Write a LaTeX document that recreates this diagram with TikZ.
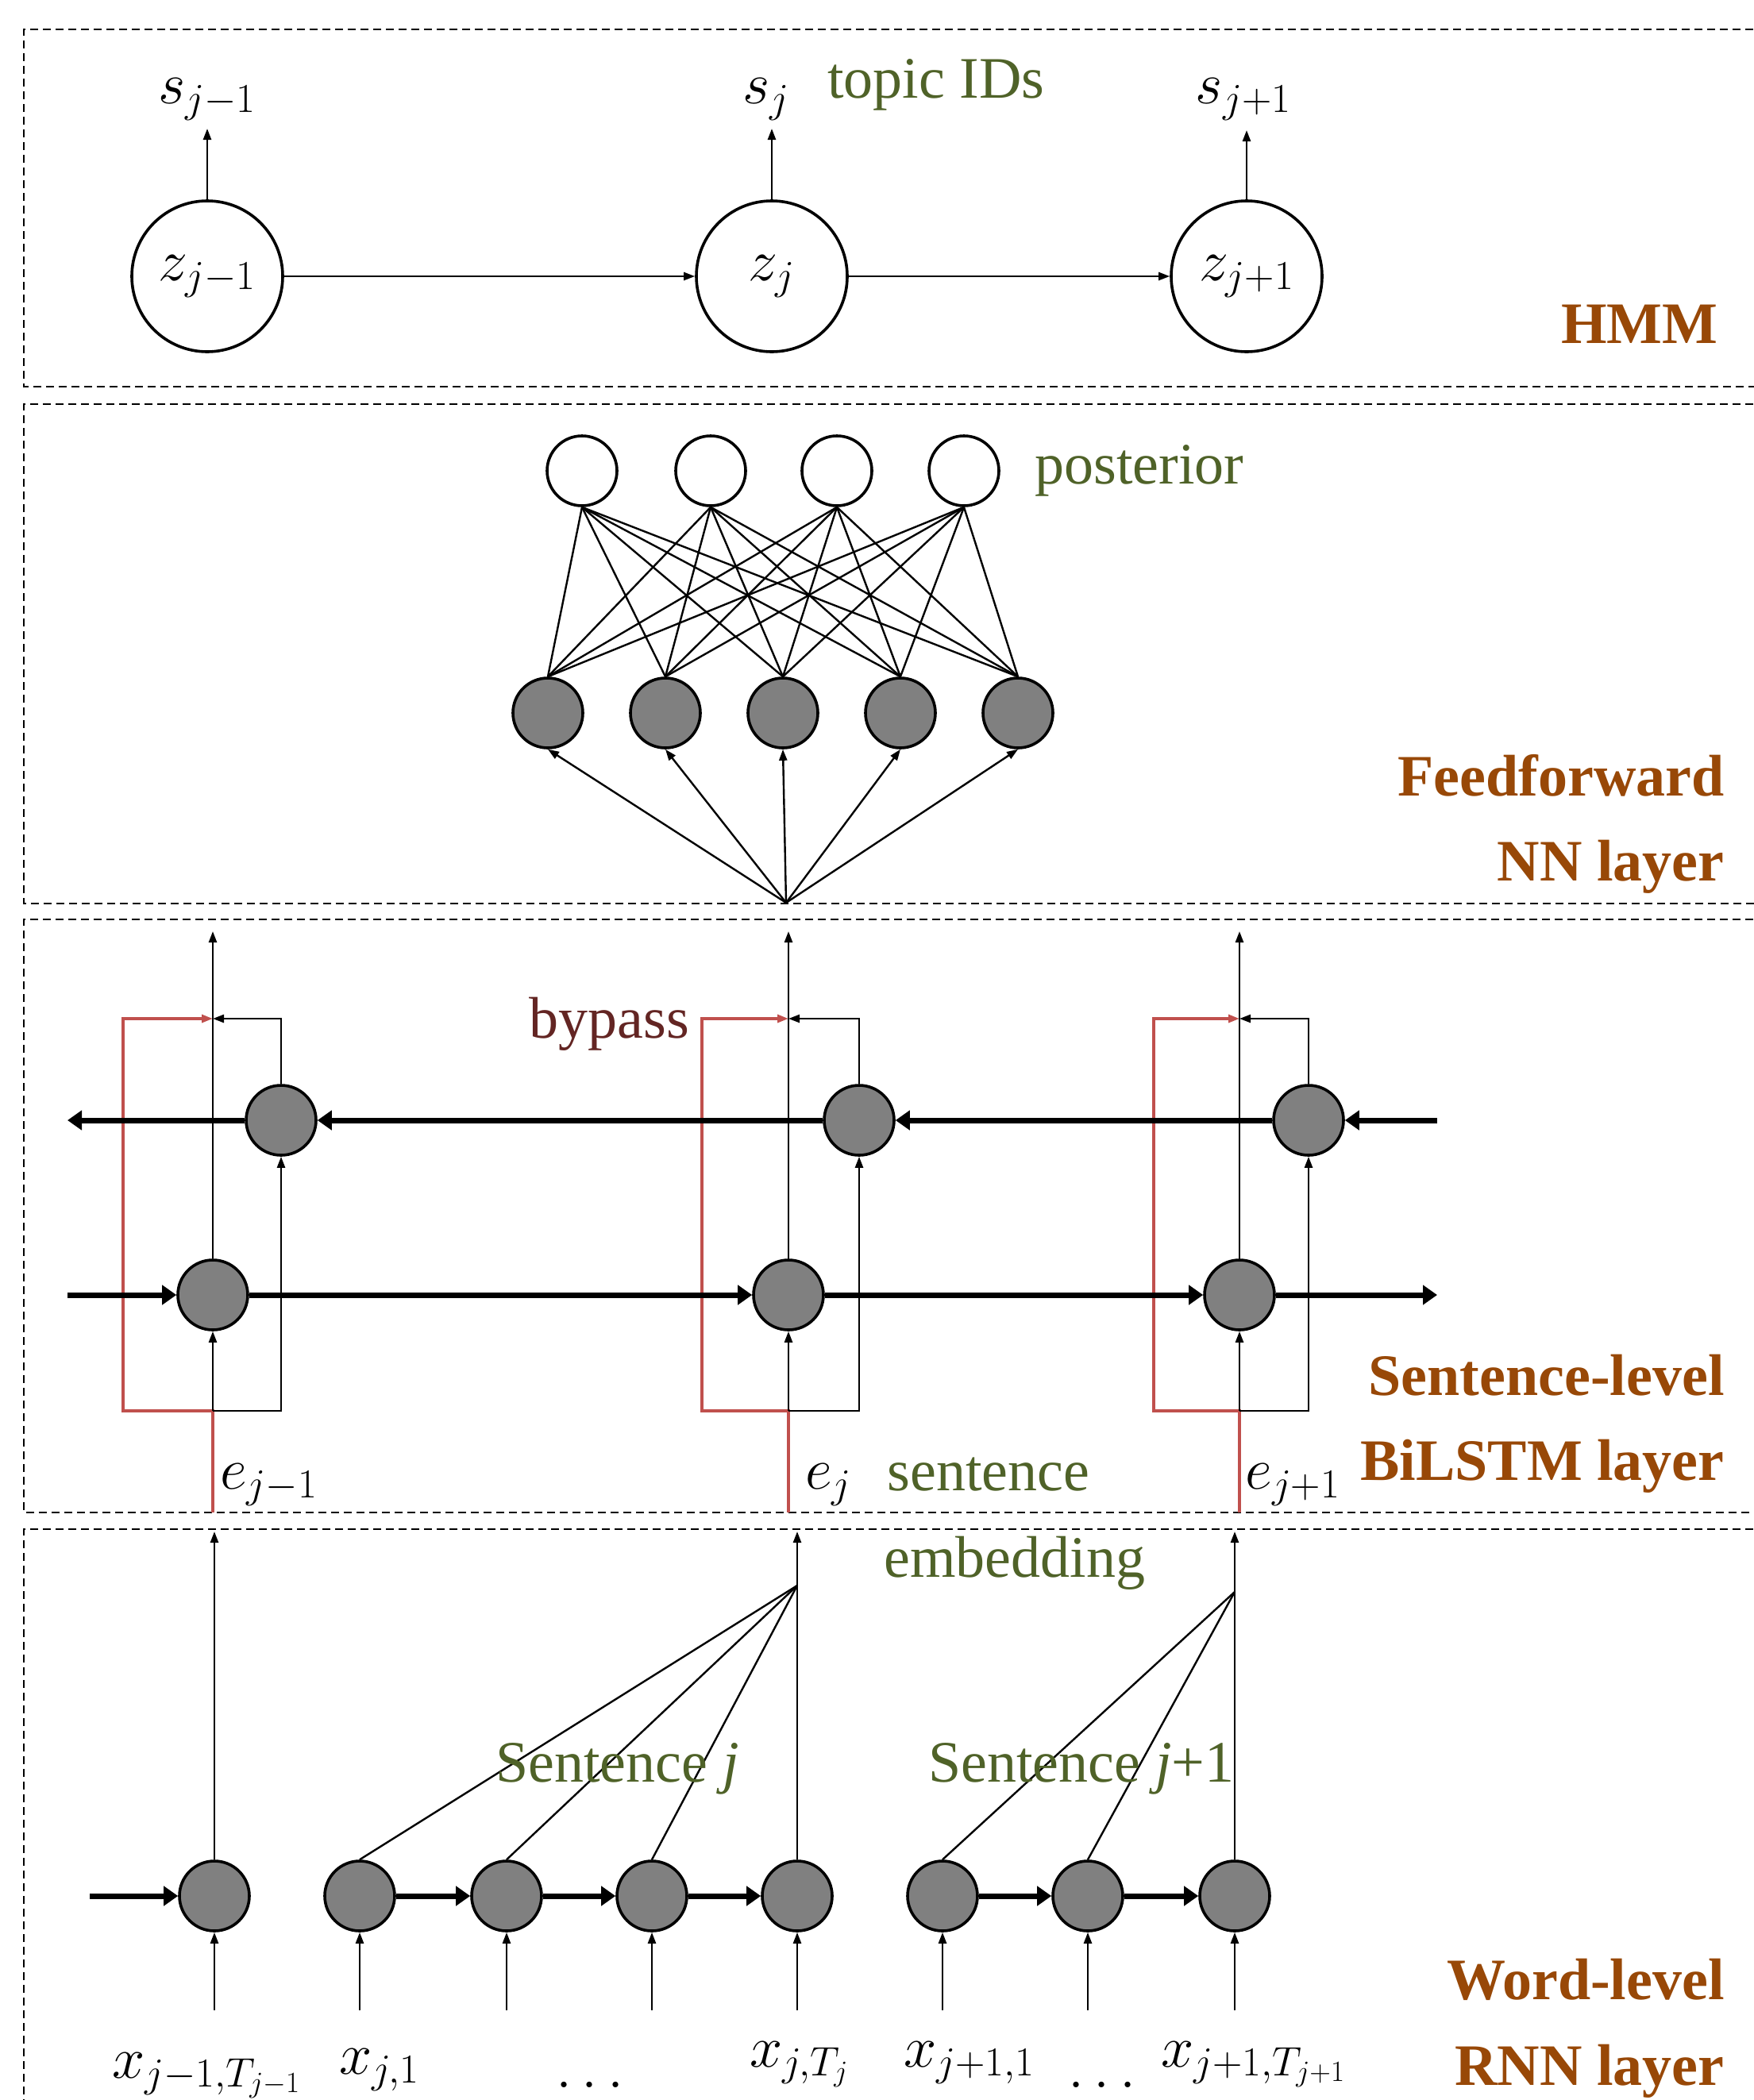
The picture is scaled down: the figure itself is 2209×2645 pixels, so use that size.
\RequirePackage{fix-cm}
\documentclass[tikz,border=0pt]{standalone}
\usepackage{fontspec}
\setmainfont{Liberation Serif}
\usetikzlibrary{arrows.meta}
\definecolor{topicgreen}{HTML}{4F6228}
\definecolor{layerbrown}{HTML}{984807}
\definecolor{bypassline}{HTML}{C0504D}
\definecolor{bypasstext}{HTML}{632523}
\definecolor{nodegray}{HTML}{808080}
\tikzset{
  big/.style={font=\fontsize{37}{44}\selectfont},
  layerbox/.style={draw, line width=1pt, dash pattern=on 5pt off 3pt},
  hmmnode/.style={circle, draw, line width=1.8pt, minimum size=95pt, inner sep=0pt, big},
  outnode/.style={circle, draw, fill=white, line width=1.8pt, minimum size=44pt, inner sep=0pt},
  hidnode/.style={circle, draw, fill=nodegray, line width=1.8pt, minimum size=44pt, inner sep=0pt},
  thinarrow/.style={line width=1.2pt, -{Triangle[length=7pt,width=5pt]}},
  thinline/.style={line width=1.2pt},
  thickarrow/.style={line width=3.5pt, -{Triangle[length=9pt,width=12pt]}},
  redline/.style={draw=bypassline, line width=1.6pt},
  redarrow/.style={redline, -{Triangle[length=7pt,width=5pt]}},
  greenlab/.style={big, text=topicgreen, inner sep=0pt},
  layerlab/.style={font=\fontsize{37}{44}\selectfont\bfseries, text=layerbrown, inner sep=0pt, anchor=base east},
  mathlab/.style={big, inner sep=0pt},
}
\begin{document}
\begin{tikzpicture}[x=0.5pt,y=-0.5pt]
\useasboundingbox (0,0) rectangle (2209,2645);

% layer boxes
\draw[layerbox] (2240,37) -- (30,37) -- (30,487) -- (2240,487);
\draw[layerbox] (2240,509) -- (30,509) -- (30,1138) -- (2240,1138);
\draw[layerbox] (2240,1158) -- (30,1158) -- (30,1905) -- (2240,1905);
\draw[layerbox] (2240,1926) -- (30,1926) -- (30,2700);

% ---------------- HMM ----------------
\node[hmmnode] (z1) at (261,348) {$z_{j-1}$};
\node[hmmnode] (z2) at (972,348) {$z_j$};
\node[hmmnode] (z3) at (1570,348) {$z_{j+1}$};
\node[mathlab, anchor=base] (s1) at (261,130) {$s_{j-1}$};
\node[mathlab, anchor=base] (s2) at (965,130) {$s_j$};
\node[mathlab, anchor=base] (s3) at (1566,130) {$s_{j+1}$};
\draw[thinarrow] (z1.north) -- (z1.north |- 0,162);
\draw[thinarrow] (z2.north) -- (z2.north |- 0,162);
\draw[thinarrow] (z3.north) -- (z3.north |- 0,164);
\draw[thinarrow] (z1) -- (z2);
\draw[thinarrow] (z2) -- (z3);
\node[greenlab, anchor=base west] (topic) at (1042,123) {topic IDs};
\node[layerlab] (hmmlab) at (2164,432) {HMM};

% ---------------- Feedforward ----------------
\node[outnode] (o1) at (733,593) {};
\node[outnode] (o2) at (895,593) {};
\node[outnode] (o3) at (1054,593) {};
\node[outnode] (o4) at (1214,593) {};
\node[hidnode] (h1) at (690,898) {};
\node[hidnode] (h2) at (838,898) {};
\node[hidnode] (h3) at (986,898) {};
\node[hidnode] (h4) at (1134,898) {};
\node[hidnode] (h5) at (1282,898) {};
\foreach \o in {o1,o2,o3,o4}{
  \foreach \h in {h1,h2,h3,h4,h5}{
    \draw[thinline] (\o.south) -- (\h.north);
  }
}
\coordinate (fan) at (990,1137);
\foreach \h in {h1,h2,h3,h4,h5}{
  \draw[thinarrow] (fan) -- (\h.south);
}
\node[greenlab, anchor=base west] (post) at (1303,609) {posterior};
\node[layerlab] (fflab1) at (2172,1002) {Feedforward};
\node[layerlab] (fflab2) at (2172,1109) {NN layer};

% ---------------- Sentence-level BiLSTM ----------------
\node[hidnode] (f1) at (268,1631) {};
\node[hidnode] (f2) at (993,1631) {};
\node[hidnode] (f3) at (1561,1631) {};
\node[hidnode] (b1) at (354,1411) {};
\node[hidnode] (b2) at (1082,1411) {};
\node[hidnode] (b3) at (1648,1411) {};

% column coordinates
\coordinate (ein1) at (268,1905); \coordinate (sp1) at (268,1777);
\coordinate (rb1) at (155,1777);  \coordinate (rt1) at (155,1283);
\coordinate (mg1) at (268,1283);  \coordinate (tp1) at (268,1173);
\coordinate (ein2) at (993,1905); \coordinate (sp2) at (993,1777);
\coordinate (rb2) at (884,1777);  \coordinate (rt2) at (884,1283);
\coordinate (mg2) at (993,1283);  \coordinate (tp2) at (993,1173);
\coordinate (ein3) at (1561,1905); \coordinate (sp3) at (1561,1777);
\coordinate (rb3) at (1453,1777);  \coordinate (rt3) at (1453,1283);
\coordinate (mg3) at (1561,1283);  \coordinate (tp3) at (1561,1173);

\foreach \i in {1,2,3}{
  \draw[redarrow] (ein\i) -- (sp\i) -- (rb\i) -- (rt\i) -- (mg\i);
  \draw[redline, line width=2.4pt] (sp\i) -- (rb\i);
  \draw[thinarrow] (sp\i) -- (f\i.south);
  \draw[thinarrow] (sp\i) -| (b\i.south);
  \draw[thinarrow] (f\i.north) -- (tp\i);
  \draw[thinarrow] (b\i.north) |- (mg\i);
}

% thick recurrent rows
\coordinate (fstart) at (85,1631);
\coordinate (fend) at (1810,1631);
\coordinate (bstart) at (1810,1411);
\coordinate (bend) at (85,1411);
\draw[thickarrow] (fstart) -- (f1.west);
\draw[thickarrow] (f1.east) -- (f2.west);
\draw[thickarrow] (f2.east) -- (f3.west);
\draw[thickarrow] (f3.east) -- (fend);
\draw[thickarrow] (bstart) -- (b3.east);
\draw[thickarrow] (b3.west) -- (b2.east);
\draw[thickarrow] (b2.west) -- (b1.east);
\draw[thickarrow] (b1.west) -- (bend);

\node[big, text=bypasstext, inner sep=0pt, anchor=base west] (bypass) at (666,1307) {bypass};
\node[mathlab, anchor=base west] (e1) at (277,1875) {$e_{j-1}$};
\node[mathlab, anchor=base west] (e2) at (1014,1875) {$e_j$};
\node[mathlab, anchor=base west] (e3) at (1568,1875) {$e_{j+1}$};
\node[greenlab, anchor=base west] (sent) at (1117,1877) {sentence};
\node[greenlab, anchor=base west] (embed) at (1113,1986) {embedding};
\node[layerlab] (bilab1) at (2172,1757) {Sentence-level};
\node[layerlab] (bilab2) at (2172,1864) {BiLSTM layer};

% ---------------- Word-level RNN ----------------
\node[hidnode] (w1) at (270,2388) {};
\node[hidnode] (w2) at (453,2388) {};
\node[hidnode] (w3) at (638,2388) {};
\node[hidnode] (w4) at (821,2388) {};
\node[hidnode] (w5) at (1004,2388) {};
\node[hidnode] (w6) at (1187,2388) {};
\node[hidnode] (w7) at (1370,2388) {};
\node[hidnode] (w8) at (1555,2388) {};

\coordinate (win) at (113,2388);
\draw[thickarrow] (win) -- (w1.west);
\draw[thickarrow] (w2.east) -- (w3.west);
\draw[thickarrow] (w3.east) -- (w4.west);
\draw[thickarrow] (w4.east) -- (w5.west);
\draw[thickarrow] (w6.east) -- (w7.west);
\draw[thickarrow] (w7.east) -- (w8.west);

\foreach \w/\x in {w1/270,w2/453,w3/638,w4/821,w5/1004,w6/1187,w7/1370,w8/1555}{
  \coordinate (in\w) at (\x,2532);
  \draw[thinarrow] (in\w) -- (\w.south);
}

\coordinate (up1) at (270,1929);
\coordinate (up2) at (1004,1929);
\coordinate (up3) at (1555,1929);
\coordinate (cj) at (1004,1997);
\coordinate (cjj) at (1555,2005);
\draw[thinarrow] (w1.north) -- (up1);
\draw[thinarrow] (w5.north) -- (up2);
\draw[thinarrow] (w8.north) -- (up3);
\draw[thinline] (w2.north) -- (cj);
\draw[thinline] (w3.north) -- (cj);
\draw[thinline] (w4.north) -- (cj);
\draw[thinline] (w6.north) -- (cjj);
\draw[thinline] (w7.north) -- (cjj);

\node[greenlab, anchor=base west] (sentj) at (624,2244) {Sentence \textit{j}};
\node[greenlab, anchor=base west] (sentjj) at (1169,2244) {Sentence \textit{j}+1};

\node[mathlab, anchor=base west] (x1) at (141,2617) {$x_{j-1,T_{j-1}}$};
\node[mathlab, anchor=base west] (x2) at (427,2612) {$x_{j,1}$};
\node[mathlab, anchor=base west] (d1) at (700,2629) {$\ldots$};
\node[mathlab, anchor=base west] (x3) at (944,2603) {$x_{j,T_j}$};
\node[mathlab, anchor=base west] (x4) at (1138,2603) {$x_{j+1,1}$};
\node[mathlab, anchor=base west] (d2) at (1345,2629) {$\ldots$};
\node[mathlab, anchor=base west] (x5) at (1462,2603) {$x_{j+1,T_{j+1}}$};

\node[layerlab] (wlab1) at (2172,2518) {Word-level};
\node[layerlab] (wlab2) at (2172,2626) {RNN layer};
\end{tikzpicture}
\end{document}
